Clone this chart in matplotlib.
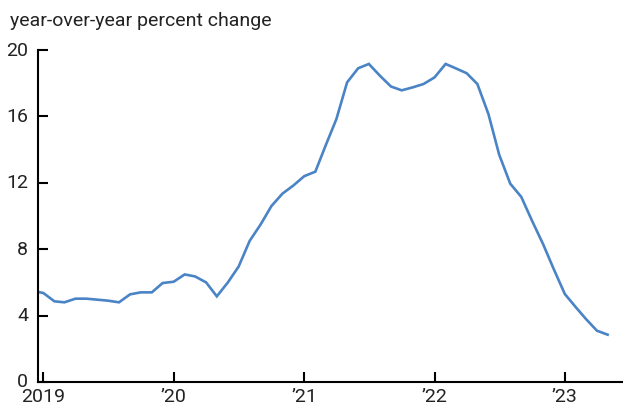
import numpy as np
import pandas as pd
import matplotlib
matplotlib.use("Agg")
import matplotlib.pyplot as plt
import matplotlib.transforms as mtransforms

plt.rcParams['font.family'] = ['Roboto', 'DejaVu Sans']

# monthly year-over-year percent change, Dec 2018 .. May 2023
values = [5.5,
          5.36, 4.86, 4.8, 5.02, 5.02, 4.96, 4.9, 4.8, 5.28, 5.4, 5.4, 5.96,
          6.04, 6.48, 6.36, 6.0, 5.16, 6.0, 6.95, 8.5, 9.5, 10.6, 11.35, 11.83,
          12.4, 12.67, 14.2, 15.84, 18.05, 18.9, 19.16, 18.45, 17.8, 17.57, 17.75, 17.95,
          18.35, 19.16, 18.9, 18.6, 17.95, 16.14, 13.7, 11.95, 11.15, 9.72, 8.31, 6.8,
          5.3, 4.5, 3.8, 3.09, 2.85]
months = pd.date_range("2018-12-01", periods=len(values), freq="MS")

tick_dates = pd.to_datetime(["2019-01-01", "2020-01-01", "2021-01-01", "2022-01-01", "2023-01-01"])
tick_labels = ["2019", "\u201920", "\u201921", "\u201922", "\u201923"]
y_ticks = [0, 4, 8, 12, 16, 20]

fig = plt.figure(figsize=(6.23, 4.06), dpi=100)
ax = fig.add_axes([38 / 623, 23 / 406, 585 / 623, 332 / 406])

ax.plot(months, values, color="#4a84c6", linewidth=1.9, solid_joinstyle="miter")

ax.set_ylim(0, 20)
ax.set_xlim(pd.Timestamp("2018-12-17"), pd.Timestamp("2023-06-13"))
ax.set_yticks(y_ticks)
ax.set_xticks(tick_dates)
ax.set_xticklabels(tick_labels)

for s in ["top", "right"]:
    ax.spines[s].set_visible(False)
for s in ["left", "bottom"]:
    ax.spines[s].set_linewidth(1.5)

ax.tick_params(axis="both", direction="in", length=7.5, width=1.5, labelsize=14,
               colors="black", labelcolor="#222222")
ax.tick_params(axis="y", pad=7)
ax.tick_params(axis="x", pad=3.5)

# nudge y labels up a little so "0" clears "2019"
shift = mtransforms.ScaledTranslation(0, 2.5 / 100, fig.dpi_scale_trans)
for lbl in ax.get_yticklabels():
    lbl.set_transform(lbl.get_transform() + shift)

fig.text(10 / 623, 1 - 21 / 406, "year-over-year percent change", fontsize=14,
         color="#222222", va="center", ha="left")

fig.savefig("out.png", dpi=100)
